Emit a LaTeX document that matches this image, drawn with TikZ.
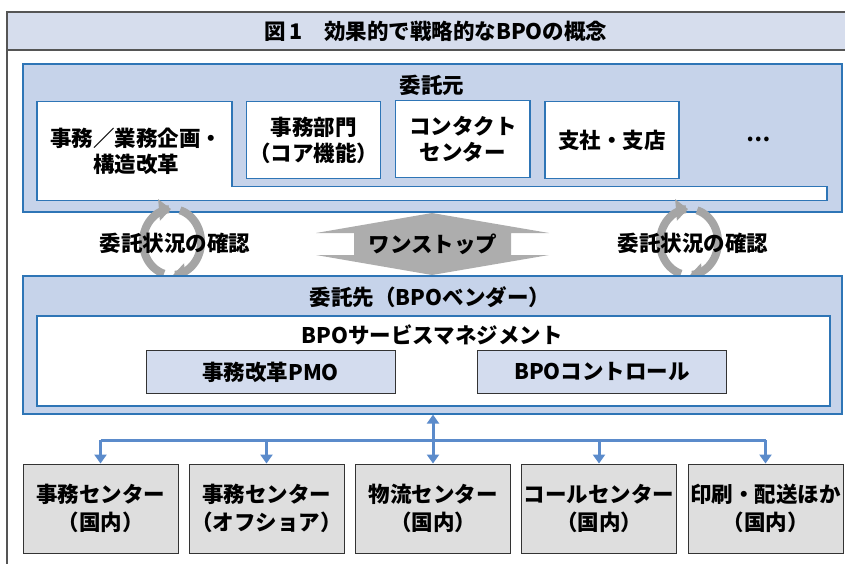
\documentclass[tikz,border=0pt]{standalone}
\usepackage{fontspec}
\setmainfont{Noto Sans CJK JP}
\usetikzlibrary{arrows.meta}
\definecolor{bandfill}{HTML}{D6DDED}
\definecolor{bluefill}{HTML}{C6D3EA}
\definecolor{blueline}{HTML}{2E75B6}
\definecolor{pmofill}{HTML}{D3DCEE}
\definecolor{grayfill}{HTML}{DEDEDE}
\definecolor{arrowblue}{HTML}{5B8BCB}
\definecolor{cyclegray}{HTML}{A5A5A5}
\definecolor{onegray}{HTML}{ADADAD}
\definecolor{frameline}{HTML}{555555}
\tikzset{
  bluebox/.style={draw=blueline, fill=bluefill, line width=1.2pt, inner sep=0pt},
  whitebox/.style={draw=blueline, fill=white, line width=1.2pt, inner sep=0pt, align=center},
  pmobox/.style={draw=black!80, fill=pmofill, line width=0.9pt, inner sep=0pt, minimum width=249pt, minimum height=42.6pt},
  centerbox/.style={draw=black!80, fill=grayfill, line width=0.9pt, inner sep=0pt, minimum width=155pt, minimum height=89pt, align=center, font=\fontsize{21.5}{28}\selectfont\bfseries},
  txt/.style={inner sep=0pt, align=center},
  link/.style={draw=arrowblue, line width=3pt, -{Triangle[length=9pt,width=12pt]}},
  cyc/.style={draw=cyclegray, line width=8pt, -{Triangle[length=12pt,width=21pt]}},
}
\begin{document}
\begin{tikzpicture}[x=1pt, y=-1pt, font=\fontsize{21.5}{26}\selectfont\bfseries]
\useasboundingbox (0,0) rectangle (845,564);
% title band
\fill[bandfill] (7,12) rectangle (845,50);
\draw[frameline, line width=1.2pt] (845,12) -- (7,12) -- (7,564);
\draw[frameline, line width=1.2pt] (7,50) -- (845,50);
\node[txt] (title) at (436,31) {図\,1\quad 効果的で戦略的なBPOの概念};

% client (upper box)
\node[bluebox, minimum width=819pt, minimum height=148pt] (client) at (432.5,138) {};
\node[txt] (clientlabel) at (432,85) {委託元};
\draw[draw=blueline, fill=white, line width=1.2pt] (37,101.7) -- (232,101.7) -- (232,186.7) -- (827,186.7) -- (827,200.7) -- (37,200.7) -- cycle;
\node[txt] (b1) at (136,151.5) {事務／業務企画・\\構造改革};
\node[whitebox, minimum width=134pt, minimum height=76.6pt] (b2) at (313.7,140) {事務部門\\（コア機能）};
\node[whitebox, minimum width=134.3pt, minimum height=76.6pt] (b3) at (462.9,139) {コンタクト\\センター};
\node[whitebox, minimum width=134pt, minimum height=76.6pt] (b4) at (612,140) {支社・支店};
\node[txt] (b5) at (759,139) {…};

% middle
\draw[cyc] plot[domain=106:268, samples=40] ({172+29*cos(\x)},{242+33*sin(\x)});
\draw[cyc] plot[domain=286:448, samples=40] ({172+29*cos(\x)},{242+33*sin(\x)});
\draw[cyc] plot[domain=106:268, samples=40] ({689+29*cos(\x)},{242+33*sin(\x)});
\draw[cyc] plot[domain=286:448, samples=40] ({689+29*cos(\x)},{242+33*sin(\x)});
\node[txt] (checkL) at (175,243) {委託状況の確認};
\node[txt] (checkR) at (693,243) {委託状況の確認};
\fill[onegray] (432,213) -- (549,233) -- (511,233) -- (511,255) -- (549,255) -- (432,275) -- (316,255) -- (354,255) -- (354,233) -- (316,233) -- cycle;
\node[txt] (onestop) at (433,244) {ワンストップ};

% vendor (lower box)
\node[bluebox, minimum width=819pt, minimum height=138pt] (vendor) at (432.5,345) {};
\node[txt] (vendorlabel) at (430,297) {委託先（BPOベンダー）};
\node[whitebox, minimum width=793pt, minimum height=90pt] (mgmt) at (433.5,361) {};
\node[txt] (mgmtlabel) at (432,335) {BPOサービスマネジメント};
\node[pmobox] (pmo) at (270.5,372) {事務改革PMO};
\node[pmobox] (ctrl) at (602,372) {BPOコントロール};

% service centers
\node[centerbox] (c1) at (100.5,508.5) {事務センター\\（国内）};
\node[centerbox] (c2) at (266.5,508.5) {事務センター\\（オフショア）};
\node[centerbox] (c3) at (433,508.5) {物流センター\\（国内）};
\node[centerbox] (c4) at (599,508.5) {コールセンター\\（国内）};
\node[centerbox] (c5) at (765.5,508.5) {印刷・配送ほか\\（国内）};

\coordinate (bus) at (433,440);
\draw[draw=arrowblue, line width=3pt] (c1.north |- bus) -- (c5.north |- bus);
\draw[link] (c1.north |- bus) -- (c1.north);
\draw[link] (c2.north |- bus) -- (c2.north);
\draw[link] (c4.north |- bus) -- (c4.north);
\draw[link] (c5.north |- bus) -- (c5.north);
\draw[link, {Triangle[length=9pt,width=12pt]}-{Triangle[length=9pt,width=12pt]}] (c3.north) -- (c3.north |- vendor.south);
\end{tikzpicture}
\end{document}
